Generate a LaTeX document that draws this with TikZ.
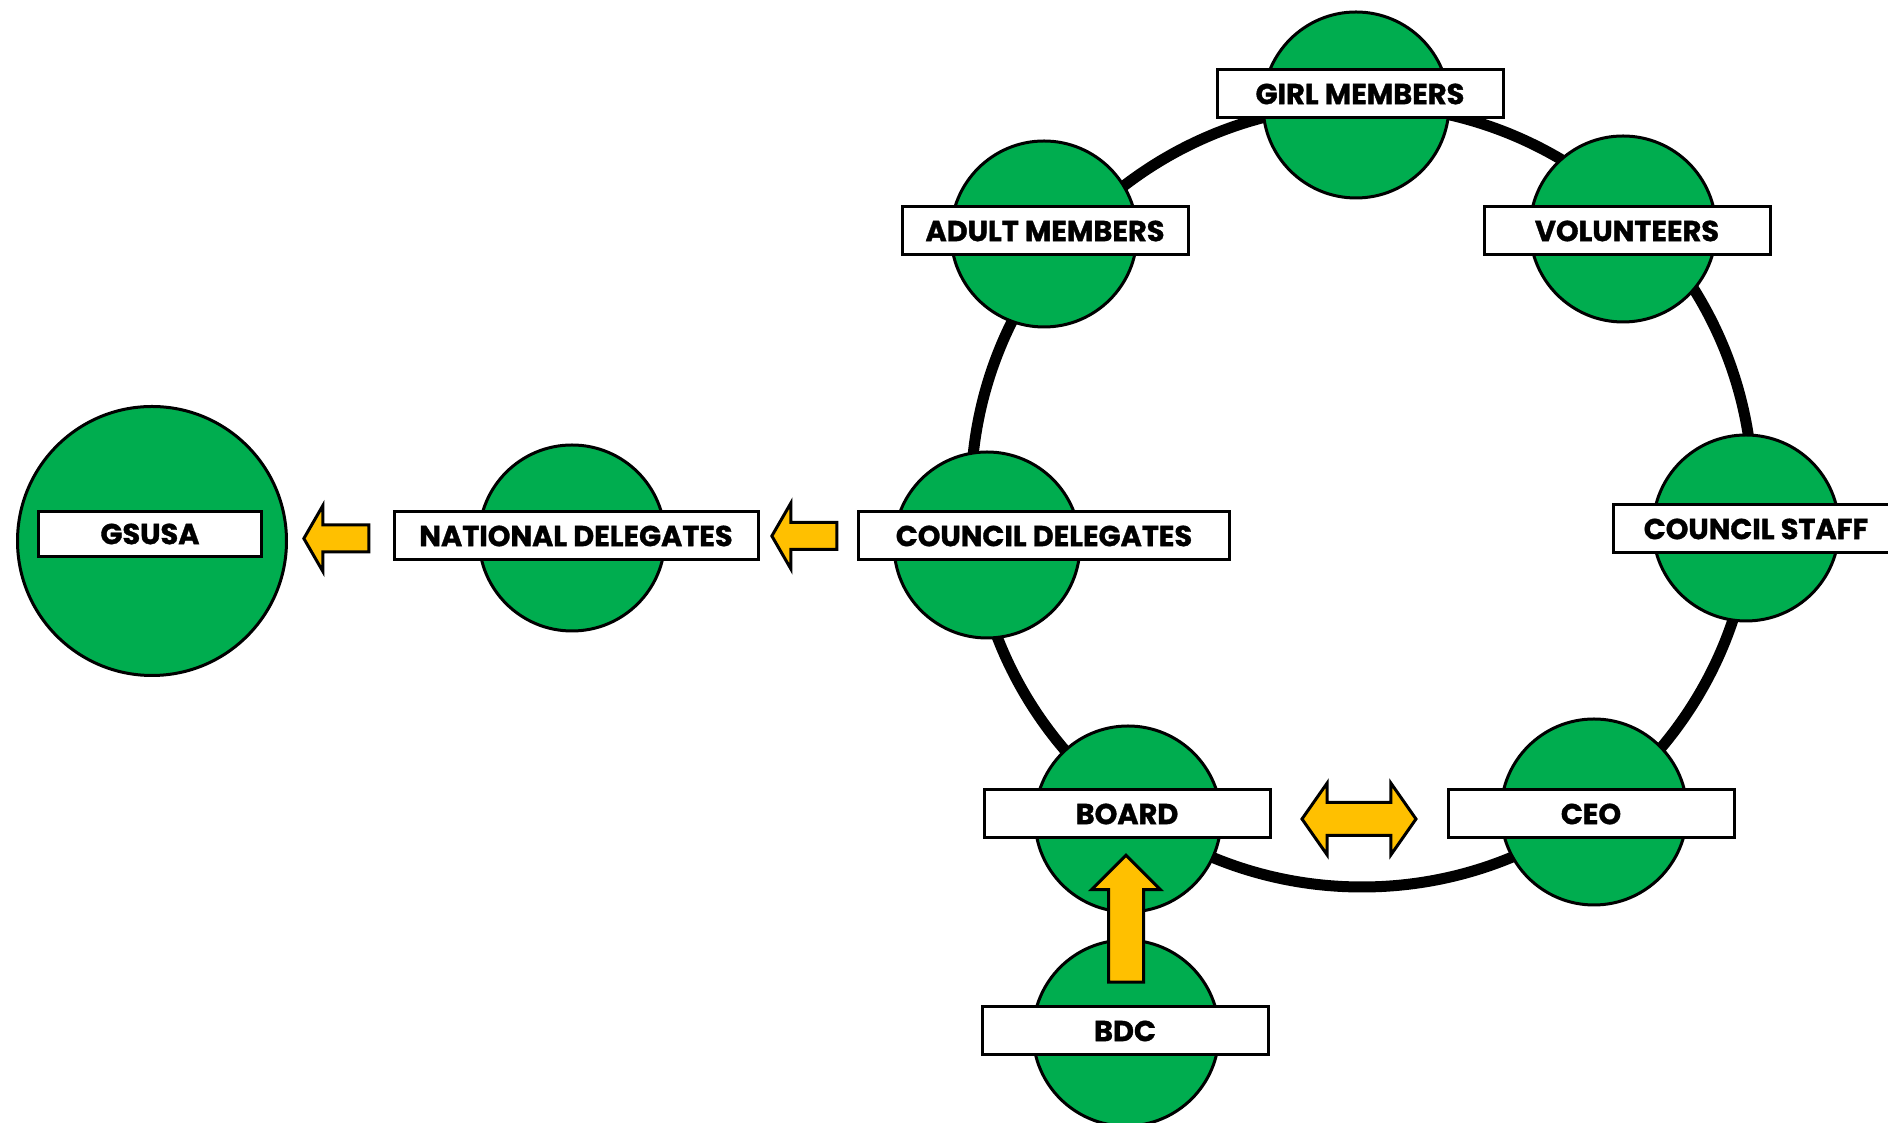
\documentclass[tikz,border=0pt]{standalone}
\usepackage{fontspec}
\setmainfont{Poppins}[BoldFeatures={FakeBold=1.2}]
\usepackage{tikz}
\usetikzlibrary{shapes.arrows,calc}

\definecolor{scoutgreen}{RGB}{0,173,79}
\definecolor{gold}{RGB}{255,192,0}

\begin{document}
\begin{tikzpicture}[x=0.1mm,y=-0.1mm,line cap=round,
  disc/.style={circle,draw=black,fill=scoutgreen,line width=0.3mm,minimum size=18.6mm,inner sep=0},
  tag/.style={rectangle,draw=black,fill=white,line width=0.3mm,minimum width=28.6mm,minimum height=4.8mm,inner sep=0,font=\fontsize{8.2}{9}\selectfont\bfseries},
  leftflow/.style={single arrow,draw=black,fill=gold,line width=0.3mm,line join=miter,inner xsep=0,inner ysep=1.2mm,minimum height=6.5mm,single arrow head extend=1.95mm,single arrow tip angle=120,shape border rotate=180},
  upflow/.style={single arrow,draw=black,fill=gold,line width=0.3mm,line join=miter,inner xsep=1.6mm,inner ysep=0,minimum height=12.7mm,single arrow head extend=1.7mm,single arrow tip angle=90,shape border rotate=90},
  twoway/.style={double arrow,draw=black,fill=gold,line width=0.3mm,line join=miter,inner xsep=0,inner ysep=1.5mm,minimum height=11.4mm,double arrow head extend=1.95mm,double arrow tip angle=110}]
\useasboundingbox (0,0) rectangle (1888,1123);
% ring
\coordinate (hub) at (1362,496);
\draw[line width=1.1mm] (hub) circle (39.1mm);
% circles
\node[disc] (girl) at (1356,105) {};
\node[disc] (adult) at (1044,234) {};
\node[disc] (vol) at (1623,229) {};
\node[disc] (staff) at (1746,528) {};
\node[disc] (ceo) at (1594,812) {};
\node[disc] (board) at (1128,819) {};
\node[disc] (bdc) at (1126,1033) {};
\node[disc] (cdel) at (987,545) {};
\node[disc] (ndel) at (572,538) {};
\node[disc,minimum size=26.9mm] (gsusa) at (152,541) {};
% labels
\node[tag] (girl box) at (1360,94) {GIRL MEMBERS};
\node[tag] (adult box) at (1045,231) {ADULT MEMBERS};
\node[tag] (vol box) at (1627,231) {VOLUNTEERS};
\node[tag] (staff box) at (1756,529) {COUNCIL STAFF};
\node[tag] (ceo box) at (1591,814) {CEO};
\node[tag] (board box) at (1127,814) {BOARD};
\node[tag] (bdc box) at (1125,1031) {BDC};
\node[tag,minimum width=37.1mm] (cdel box) at (1044,536) {COUNCIL DELEGATES};
\node[tag,minimum width=36.4mm] (ndel box) at (576,536) {NATIONAL DELEGATES};
\node[tag,minimum width=22.3mm,minimum height=4.5mm] (gsusa box) at (150,534) {GSUSA};
% arrows
\node[leftflow] (to gsusa) at ($(gsusa.east)!0.5!(ndel box.west)$) {};
\node[leftflow] (to ndel) at ($(ndel box.east)!0.5!(cdel box.west)$) {};
\node[twoway] (board ceo) at ($(board box.east)!0.5!(ceo box.west)+(0,5)$) {};
\node[upflow] (to board) at ($(board box.south)!0.5!(bdc box.north)+(0,5)$) {};
\end{tikzpicture}
\end{document}
